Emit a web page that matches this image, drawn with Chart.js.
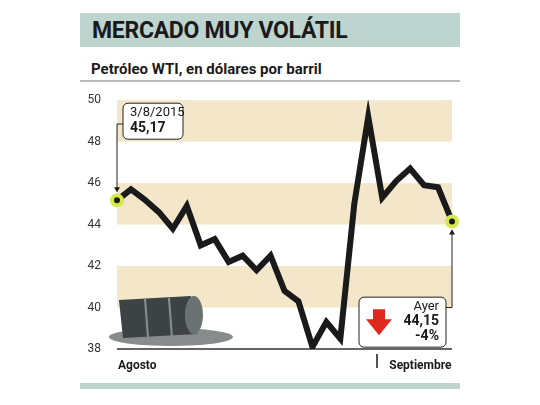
<!DOCTYPE html><html><head><meta charset="utf-8">
<script src="https://cdn.jsdelivr.net/npm/chart.js@4"></script>
<style>
body{margin:0;width:540px;height:405px;background:#fff;position:relative;font-family:"Liberation Sans Narrow","Roboto",sans-serif;overflow:hidden}
#hdr{position:absolute;left:80px;top:13px;width:380px;height:34px;background:#bdd4cf}
#hdr span{position:absolute;left:12px;top:4px;font-size:23px;font-weight:bold;color:#1a1a1a;letter-spacing:-0.3px}
#sub{position:absolute;left:91px;top:60px;font-size:15px;font-weight:bold;color:#1a1a1a}
#line{position:absolute;left:80px;top:80px;width:380px;height:2px;background:#bbb}
#ftr{position:absolute;left:80px;top:383px;width:380px;height:6px;background:#bdd4cf}
#wrap{position:absolute;left:80px;top:85px;width:380px;height:295px}
</style></head><body>
<div id="hdr"><span>MERCADO MUY VOLÁTIL</span></div>
<div id="sub">Petróleo WTI, en dólares por barril</div>
<div id="line"></div>
<div id="wrap"><canvas id="c"></canvas></div>
<div id="ftr"></div>
<script>
const days=["3/8","4/8","5/8","6/8","7/8","10/8","11/8","12/8","13/8","14/8","17/8","18/8","19/8","20/8","21/8","24/8","25/8","26/8","27/8","28/8","31/8","1/9","2/9","3/9","4/9"];
const prices=[45.17,45.7,45.2,44.6,43.8,44.9,43.0,43.3,42.2,42.5,41.8,42.5,40.8,40.3,38.1,39.3,38.5,45.0,49.2,45.3,46.1,46.7,45.9,45.8,44.15];
const yTicks=[38,40,42,44,46,48,50];
const bands=[[40,42],[44,46],[48,50]];
const F='"Liberation Sans Narrow","Roboto",sans-serif';
function box(ctx,x,y,w,h,r){ctx.beginPath();ctx.moveTo(x+r,y);ctx.arcTo(x+w,y,x+w,y+h,r);ctx.arcTo(x+w,y+h,x,y+h,r);ctx.arcTo(x,y+h,x,y,r);ctx.arcTo(x,y,x+w,y,r);ctx.closePath();}
const deco={id:'deco',
beforeDatasetsDraw(ch){const {ctx,chartArea:a,scales:{x,y}}=ch;ctx.save();ctx.fillStyle='#f4e7c9';
 bands.forEach(b=>{const t=y.getPixelForValue(b[1]),bo=y.getPixelForValue(b[0]);ctx.fillRect(a.left,t,a.right-a.left,bo-t);});
 const bx=x.getPixelForValue(1),by=y.getPixelForValue(39.3);
 ctx.fillStyle='rgba(40,45,45,0.55)';ctx.beginPath();ctx.ellipse(bx+40,by+15,62,9,0,0,7);ctx.fill();
 ctx.fillStyle='#3d4244';ctx.beginPath();ctx.moveTo(bx-12,by-22);ctx.lineTo(bx+60,by-26);ctx.lineTo(bx+66,by+12);ctx.lineTo(bx-8,by+16);ctx.closePath();ctx.fill();
 ctx.fillStyle='#6b7272';ctx.beginPath();ctx.ellipse(bx+63,by-7,9,19,0,0,7);ctx.fill();
 ctx.strokeStyle='#8a9090';ctx.lineWidth=2;[14,38].forEach(o=>{ctx.beginPath();ctx.moveTo(bx+o,by-24);ctx.lineTo(bx+o+3,by+15);ctx.stroke();});
 ctx.strokeStyle='#333';ctx.lineWidth=1.5;ctx.beginPath();ctx.moveTo(a.left,y.getPixelForValue(38));ctx.lineTo(a.right,y.getPixelForValue(38));ctx.stroke();
 ctx.restore();},
afterDatasetsDraw(ch){const {ctx,chartArea:a,scales:{x,y}}=ch;ctx.save();
 ctx.fillStyle='#1a1a1a';ctx.textBaseline='top';ctx.font='bold 12px '+F;ctx.textAlign='left';
 const yb=y.getPixelForValue(38);ctx.fillText('Agosto',a.left+1,yb+11);
 const sx=x.getPixelForValue(18)+9;ctx.fillRect(sx-1,yb+5,1.5,14);ctx.fillText('Septiembre',sx+12,yb+11);
 const p0x=x.getPixelForValue(0),p0y=y.getPixelForValue(prices[0]);
 ctx.strokeStyle='#222';ctx.lineWidth=1;ctx.beginPath();ctx.moveTo(p0x,p0y-9);ctx.lineTo(p0x,y.getPixelForValue(48.85));ctx.lineTo(p0x+6,y.getPixelForValue(48.85));ctx.stroke();
 ctx.beginPath();ctx.moveTo(p0x-3,p0y-13);ctx.lineTo(p0x+3,p0y-13);ctx.lineTo(p0x,p0y-8);ctx.fill();
 ctx.fillStyle='#fff';box(ctx,p0x+6,y.getPixelForValue(50)+3,60,36,5);ctx.fill();ctx.stroke();
 ctx.fillStyle='#1a1a1a';ctx.font='13px '+F;ctx.fillText('3/8/2015',p0x+13,y.getPixelForValue(50)+6);ctx.font='bold 14px '+F;ctx.fillText('45,17',p0x+13,y.getPixelForValue(50)+21);
 const pex=x.getPixelForValue(24),pey=y.getPixelForValue(prices[24]);
 ctx.beginPath();ctx.moveTo(pex,pey+9);ctx.lineTo(pex,y.getPixelForValue(40));ctx.lineTo(pex-6,y.getPixelForValue(40));ctx.stroke();
 ctx.beginPath();ctx.moveTo(pex-3,pey+13);ctx.lineTo(pex+3,pey+13);ctx.lineTo(pex,pey+8);ctx.fill();
 const bx=pex-93,by=y.getPixelForValue(40.5);ctx.fillStyle='#fff';box(ctx,bx,by,87,50,5);ctx.fill();ctx.stroke();
 ctx.fillStyle='#1a1a1a';ctx.textAlign='right';ctx.font='13px '+F;ctx.fillText('Ayer',bx+80,by+3);ctx.font='bold 14px '+F;ctx.fillText('44,15',bx+80,by+17);ctx.fillText('-4%',bx+80,by+32);
 ctx.fillStyle='#e0291d';ctx.beginPath();const ax=bx+20,ay=by+12;ctx.moveTo(ax-6,ay);ctx.lineTo(ax+6,ay);ctx.lineTo(ax+6,ay+10);ctx.lineTo(ax+13,ay+10);ctx.lineTo(ax,ay+26);ctx.lineTo(ax-13,ay+10);ctx.lineTo(ax-6,ay+10);ctx.closePath();ctx.fill();
 [[p0x,p0y],[pex,pey]].forEach(([px,py])=>{ctx.fillStyle='#d7e84a';ctx.beginPath();ctx.arc(px,py,7,0,7);ctx.fill();ctx.fillStyle='#1a1a1a';ctx.beginPath();ctx.arc(px,py,3,0,7);ctx.fill();});
 ctx.restore();}};
new Chart(document.getElementById('c'),{type:'line',data:{labels:days,datasets:[{data:prices,borderColor:'#1a1a1a',borderWidth:6,pointRadius:0,tension:0,borderJoinStyle:'miter'}]},
options:{responsive:true,maintainAspectRatio:false,animation:false,layout:{padding:{left:0,right:8,top:9,bottom:23}},
plugins:{legend:{display:false},tooltip:{enabled:false}},
scales:{x:{offset:false,grid:{display:false},border:{display:false},ticks:{display:false}},
 y:{min:38,max:50,afterBuildTicks(s){s.ticks=yTicks.map(v=>({value:v}));},grid:{display:false},border:{display:false},ticks:{color:'#333',font:{size:12,family:F},padding:8},afterFit(s){s.width=37;}}}},
plugins:[deco]});
</script></body></html>
